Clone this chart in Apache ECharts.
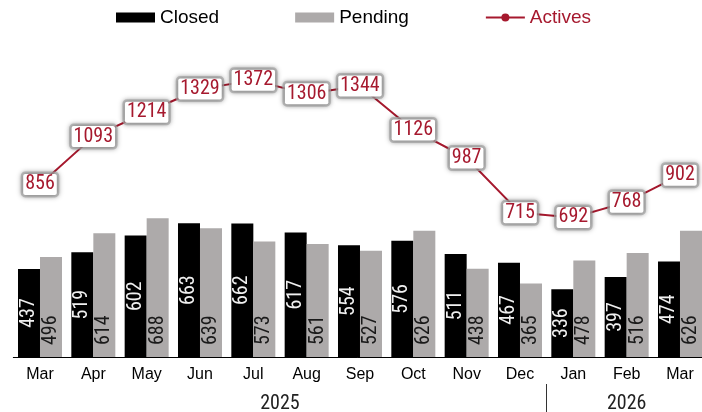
<!DOCTYPE html>
<html>
<head>
<meta charset="utf-8">
<script src="https://cdn.jsdelivr.net/npm/echarts@6/dist/echarts.min.js"></script>
<style>
  html, body { margin: 0; padding: 0; background: #fff; }
  #main { width: 702px; height: 412px; }
</style>
</head>
<body>
<div id="main"></div>
<script>
// data
var months = ['Mar', 'Apr', 'May', 'Jun', 'Jul', 'Aug', 'Sep', 'Oct', 'Nov', 'Dec', 'Jan', 'Feb', 'Mar'];
var closedSales = [437, 519, 602, 663, 662, 617, 554, 576, 511, 467, 336, 397, 474];
var pendingSales = [496, 614, 688, 639, 573, 561, 527, 626, 438, 365, 478, 516, 626];
var activeListings = [856, 1093, 1214, 1329, 1372, 1306, 1344, 1126, 987, 715, 692, 768, 902];

// year row: half-category slots, label at the middle of each year's months
var yearSlots = [];
for (var i = 0; i <= 26; i++) yearSlots.push('');
yearSlots[10] = '2025';
yearSlots[23] = '2026';
var yearSplit = 20;   // boundary between Dec and Jan

var RED = '#a6192e';
var GREY = '#adaaaa';
var SANS = "'Liberation Sans', Arial, sans-serif";
var NARROW = "'Roboto Condensed', sans-serif";

var chart = echarts.init(document.getElementById('main'));

var option = {
    animation: false,
    legend: {
        left: 116,
        top: 8,
        padding: 0,
        itemWidth: 39,
        itemHeight: 10,
        itemGap: 76,
        textStyle: { fontSize: 19, fontFamily: SANS, color: '#000' },
        data: [
            { name: 'Closed', icon: 'rect' },
            { name: 'Pending', icon: 'rect' },
            { name: 'Actives', textStyle: { color: RED } }
        ]
    },
    grid: {
        left: 13.33,
        width: 693.33,
        top: 34.4,
        bottom: 55,
        outerBoundsMode: 'none'
    },
    xAxis: [
        {
            type: 'category',
            position: 'bottom',
            data: months,
            axisLine: { lineStyle: { color: '#000', width: 1 } },
            axisTick: { length: 5, lineStyle: { color: '#000' } },
            axisLabel: { fontSize: 16, fontFamily: SANS, color: '#000', margin: 10, interval: 0 }
        },
        {
            // ticks poking up through the axis line
            type: 'category',
            position: 'bottom',
            data: months,
            axisLine: { show: false },
            axisTick: { inside: true, length: 5, lineStyle: { color: '#000' } },
            axisLabel: { show: false }
        },
        {
            type: 'category',
            position: 'bottom',
            offset: 27,
            boundaryGap: false,
            data: yearSlots,
            axisLine: { show: false },
            axisTick: {
                length: 28,
                interval: function (idx) { return idx === yearSplit; },
                lineStyle: { color: '#333' }
            },
            axisLabel: { interval: 0, fontSize: 20, fontFamily: NARROW, color: '#222', margin: 10 }
        }
    ],
    yAxis: {
        type: 'value',
        min: 0,
        max: 1600,
        show: false
    },
    series: [
        {
            name: 'Closed',
            type: 'bar',
            barWidth: 22,
            barGap: '0%',
            itemStyle: { color: '#000' },
            label: {
                show: true,
                position: 'inside',
                rotate: 90,
                fontSize: 20,
                fontFamily: NARROW,
                color: '#f0f0f0'
            },
            data: closedSales
        },
        {
            name: 'Pending',
            type: 'bar',
            barWidth: 22,
            barGap: '0%',
            itemStyle: { color: GREY },
            label: {
                show: true,
                position: 'insideBottom',
                rotate: 90,
                align: 'left',
                verticalAlign: 'middle',
                distance: 12,
                fontSize: 20,
                fontFamily: NARROW,
                color: '#1a1a1a'
            },
            data: pendingSales
        },
        {
            name: 'Actives',
            type: 'line',
            symbol: 'circle',
            symbolSize: 7,
            itemStyle: { color: RED },
            lineStyle: { color: RED, width: 2 },
            label: {
                show: true,
                position: 'inside',
                fontSize: 20,
                fontFamily: NARROW,
                color: RED,
                backgroundColor: '#fff',
                borderColor: 'rgba(175,175,175,0.75)',
                borderWidth: 2.5,
                borderRadius: 2,
                padding: [1, 2, 0, 2],
                shadowColor: 'rgba(0,0,0,0.35)',
                shadowBlur: 5
            },
            z: 5,
            data: activeListings
        }
    ]
};

chart.setOption(option);
</script>
</body>
</html>
